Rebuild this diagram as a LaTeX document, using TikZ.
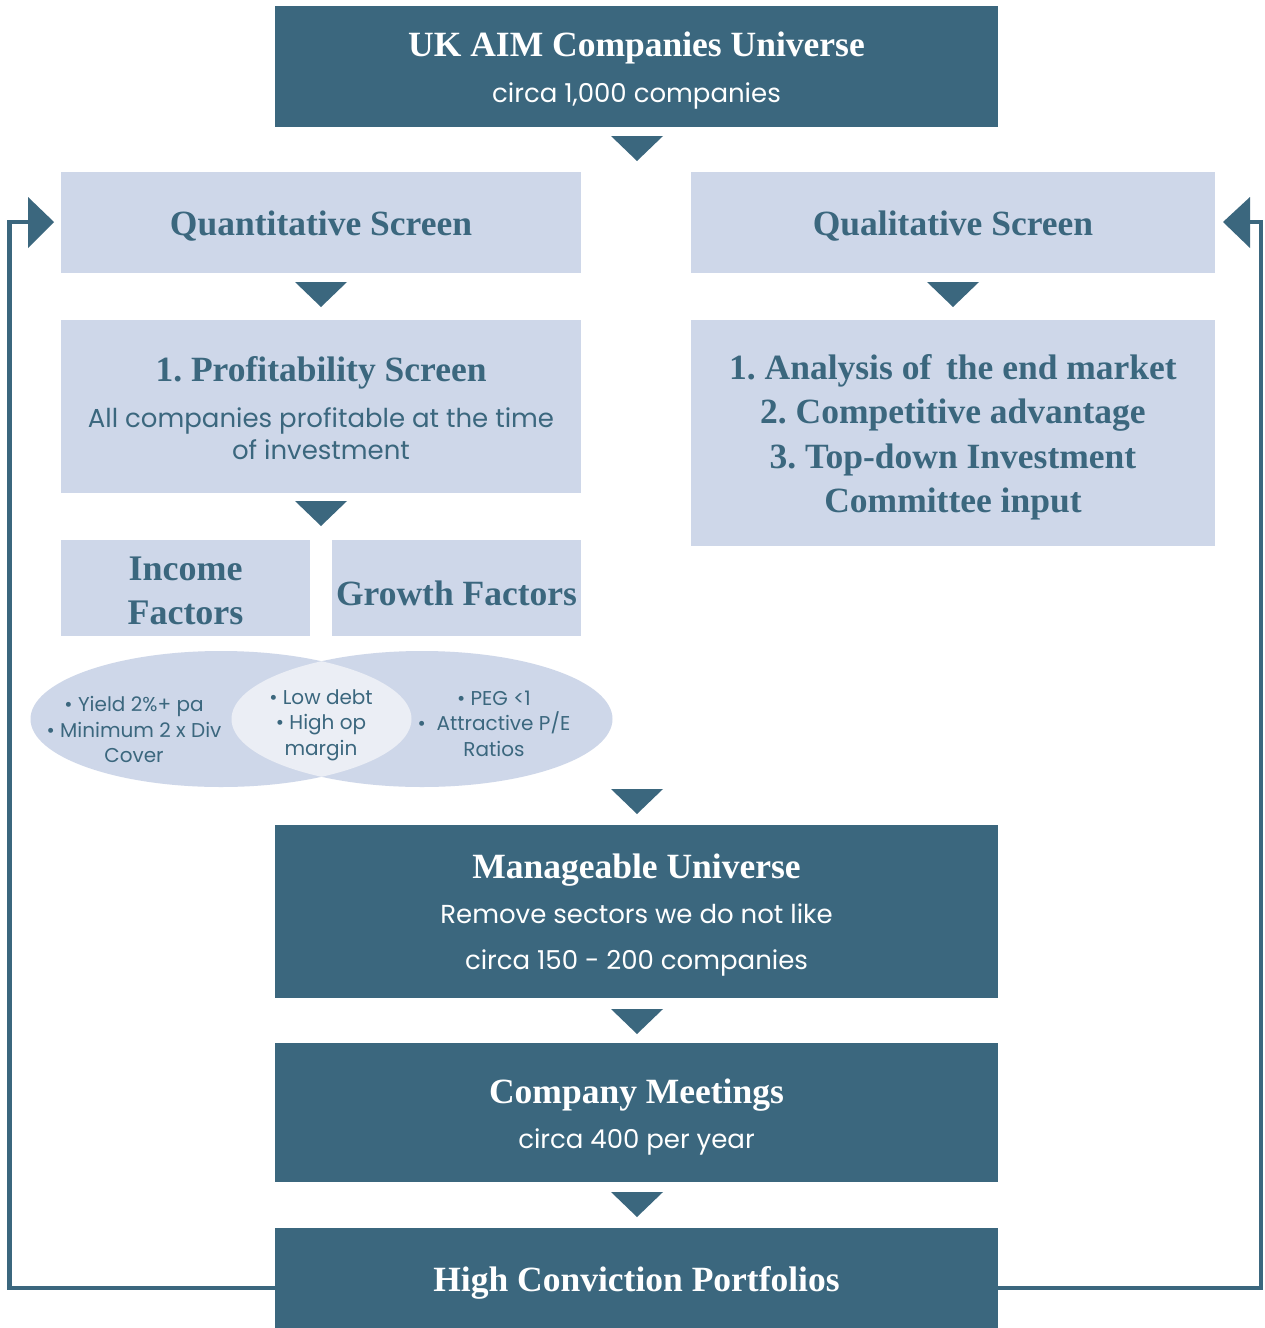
\documentclass[tikz,border=0pt]{standalone}
\usepackage{fontspec}
\setmainfont{Liberation Serif}
\newfontfamily\sansf{Poppins}
\usetikzlibrary{calc,shapes.geometric}
\definecolor{dk}{HTML}{3B677E}
\definecolor{lt}{HTML}{CED7E9}
\definecolor{lens}{HTML}{EBEEF5}
\frenchspacing
\begin{document}
\begin{tikzpicture}[x=1pt,y=-1pt,
  box/.style={draw=none,inner sep=0pt},
  dkbox/.style={box,fill=dk},
  ltbox/.style={box,fill=lt},
  ttl/.style={font=\bfseries\fontsize{35.5}{44.5}\selectfont,inner sep=0pt,align=center},
  bdy/.style={font=\sansf\fontsize{26}{32}\selectfont,inner sep=0pt,align=center},
  vtxt/.style={font=\sansf\fontsize{20}{25.5}\selectfont,text=dk,inner sep=0pt,align=center},
  fb/.style={draw=dk,line width=4.5pt},
  venn/.style={ellipse,draw=none,inner sep=0pt,minimum width=381pt,minimum height=136pt}]
\useasboundingbox (0,0) rectangle (1264,1328);
\fill[white] (0,0) rectangle (1264,1328);
\newcommand\dtri[2]{\fill[dk] ($(#1,#2)+(-26,0)$) -- ($(#1,#2)+(26,0)$) -- ($(#1,#2)+(0,25)$) -- cycle;}

% boxes
\node[dkbox,minimum width=723pt,minimum height=121pt] (top) at (636.5,66.5) {};
\node[ttl,text=white] (topT) at (636.5,48) {UK AIM Companies Universe};
\node[bdy,text=white] (topB) at (636.5,96) {circa 1,000 companies};

\node[ltbox,minimum width=520pt,minimum height=101pt] (quant) at (321,222.5) {};
\node[ttl,text=dk] (quantT) at (321,226) {Quantitative Screen};
\node[ltbox,minimum width=524pt,minimum height=101pt] (qual) at (953,222.5) {};
\node[ttl,text=dk] (qualT) at (953,226) {Qualitative Screen};

\node[ltbox,minimum width=520pt,minimum height=173pt] (prof) at (321,406.5) {};
\node[ttl,text=dk] (profT) at (321,373) {1. Profitability Screen};
\node[bdy,text=dk] (profB) at (321,434) {All companies profitable at the time\\of investment};

\node[ltbox,minimum width=524pt,minimum height=226pt] (anal) at (953,433) {};
\node[ttl,text=dk] (analT) at (953,437.5) {1. Analysis of\, the end market\\2. Competitive advantage\\3. Top-down Investment\\Committee input};

\node[ltbox,minimum width=249pt,minimum height=96pt] (inc) at (185.5,588) {};
\node[ttl,text=dk,font=\bfseries\fontsize{36}{44}\selectfont] (incT) at (185.5,591) {Income\\Factors};
\node[ltbox,minimum width=249pt,minimum height=96pt] (gro) at (456.5,588) {};
\node[ttl,text=dk] (groT) at (456.5,593) {Growth Factors};

% venn
\node[venn,fill=lt] (vl) at (221,719) {};
\node[venn,fill=lt] (vr) at (422,719) {};
\begin{scope}
  \clip (221,719) ellipse [x radius=190.5pt,y radius=68pt];
  \fill[lens] (422,719) ellipse [x radius=190.5pt,y radius=68pt];
\end{scope}
\node[vtxt] (vlT) at (134,729.5) {• Yield 2\%+ pa\\• Minimum 2 x Div\\Cover};
\node[vtxt] (vmT) at (321,725) {• Low debt\\• High op\\margin};
\node[vtxt] (vrT) at (494,723.5) {• PEG <1\\•\ \ Attractive P/E\\Ratios};

\node[dkbox,minimum width=723pt,minimum height=173pt] (man) at (636.5,911.5) {};
\node[ttl,text=white] (manT) at (636.5,870) {Manageable Universe};
\node[bdy,text=white,font=\sansf\fontsize{26}{46}\selectfont] (manB) at (636.5,940) {Remove sectors we do not like\\circa 150 - 200 companies};

\node[dkbox,minimum width=723pt,minimum height=139pt] (comp) at (636.5,1112.5) {};
\node[ttl,text=white] (compT) at (636.5,1095) {Company Meetings};
\node[bdy,text=white] (compB) at (636.5,1142) {circa 400 per year};

\node[dkbox,minimum width=723pt,minimum height=100pt] (high) at (636.5,1278) {};
\node[ttl,text=white] (highT) at (636.5,1283) {High Conviction Portfolios};

% down triangles
\dtri{637}{136}
\dtri{321}{282}
\dtri{953}{282}
\dtri{321}{501}
\dtri{637}{789}
\dtri{637}{1009}
\dtri{637}{1192}

% feedback loops
\coordinate (lc) at (9.5,222);
\coordinate (ltail) at (30,222);
\coordinate (rc) at (1261,222);
\coordinate (rtail) at (1248,222);
\draw[fb] ([yshift=-10pt]high.west) -| (lc) -- (ltail);
\fill[dk] (28,197) -- (54,222) -- (28,248) -- cycle;
\draw[fb] ([yshift=-10pt]high.east) -| (rc) -- (rtail);
\fill[dk] (1250,197) -- (1223,222) -- (1250,248) -- cycle;
\end{tikzpicture}
\end{document}
